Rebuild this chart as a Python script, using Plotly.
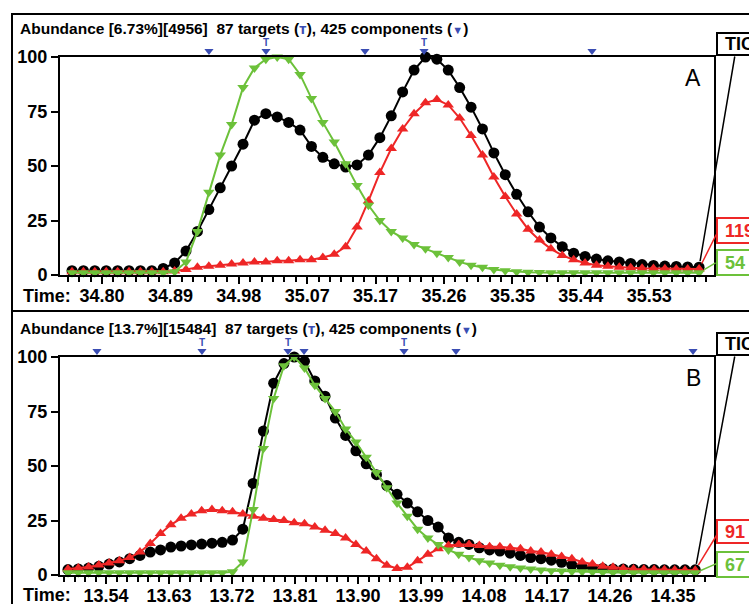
import plotly.graph_objects as go

W, H = 749, 604

RED = "#ee2626"
GREEN = "#6cc13a"
BLUE = "#3a4db3"
BLACK = "#000000"

# ---------------- Panel A : 34.7 - 35.6 min ----------------
A_scan_start = 34.760
A_scan_step = 0.01521
A_tic = [2, 2, 2, 2, 2, 2, 2, 2, 3, 5.5, 11, 20, 30, 40, 50, 60, 71, 74, 72.5, 70,
         66.5, 59, 54, 51, 49.5, 50.5, 55, 63, 73, 84, 94, 100, 99, 94, 86, 77, 67, 56, 46, 37,
         29, 22, 17, 13, 10, 8.5, 7.3, 6.5, 6, 5.3, 4.8, 4.4, 4.1, 3.9, 3.7, 3.6]
A_119 = [1.5, 1.5, 1.5, 1.5, 1.5, 1.5, 1.5, 1.5, 1.5, 1.8, 2.5, 3.5, 4, 4.5, 5, 5.5, 6, 6, 6.5, 6.5,
         7, 7, 8, 9.5, 13, 22, 34, 47, 58, 67, 74, 79, 80.5, 78, 72, 64, 55, 45, 36, 28,
         21, 16, 12, 9, 7, 5.5, 4.5, 4, 3.5, 3.3, 3.1, 3, 2.9, 2.8, 2.8, 2.8]
A_54 = [1, 1, 1, 1, 1, 1, 1, 1, 1, 1.5, 6, 20, 38, 55, 69, 86, 95, 99, 100, 99,
        92, 81, 70, 61, 51, 41, 32, 25, 20, 17, 14, 12, 10, 8, 6, 4.5, 3.5, 2.5, 2, 1.5,
        1.3, 1.2, 1, 1, 1, 1, 1, 1, 1, 1, 1, 1, 1, 1, 1, 1]
A_range = [34.74397, 35.61645]
A_tick_vals = [34.80, 34.89125, 34.9825, 35.07375, 35.165, 35.25625, 35.3475, 35.43875, 35.53]
A_tick_text = ["34.80", "34.89", "34.98", "35.07", "35.17", "35.26", "35.35", "35.44", "35.53"]
A_components = [34.9427, 35.0188, 35.1509, 35.2296, 35.4537]
A_targets = [35.0188, 35.2296]
A_header = "Abundance [6.73%][4956]"
A_ids = ["119", "54"]

# ---------------- Panel B : 13.5 - 14.4 min ----------------
B_scan_start = 13.4857
B_scan_step = 0.01469
B_tic = [2.5, 2.8, 3.2, 4, 5, 6, 7.5, 9, 10.5, 11.5, 12.8, 13.3, 13.8, 14.2, 14.6, 15, 16, 21, 42, 66,
         88, 97, 100, 98, 89, 82, 72, 64, 57, 51, 46, 41, 37, 33, 29, 25, 22, 17, 15, 14,
         12.5, 11.5, 11, 10, 9, 8, 7.5, 6.8, 5.8, 4.5, 3.7, 3.2, 3, 2.8, 2.7, 2.6, 2.5, 2.5, 2.4, 2.4,
         2.4, 2.4]
B_91 = [2.7, 3.2, 3.7, 4.6, 5.5, 6.5, 8, 10.5, 14.5, 19, 23, 26, 28, 29.5, 30, 29.5, 29, 28, 27, 26,
        25.5, 25, 24, 23.5, 22, 20.5, 19, 17, 14, 11, 7.5, 4.5, 3, 3.5, 6.5, 9.5, 12, 13.5, 14, 14,
        13.5, 13, 13, 12.5, 12, 11, 10.5, 9.5, 8.5, 7.5, 6, 5, 4, 3.5, 3, 2.8, 2.6, 2.5, 2.4, 2.3,
        2.2, 2.2]
B_67 = [1, 1, 1, 1, 1, 1, 1, 1, 1, 1, 1, 1, 1, 1, 1, 1, 1.5, 6, 30, 58,
        81, 96, 100, 95, 87, 81, 75, 67, 61, 54, 47, 40, 33, 27, 21, 17, 14, 11.5, 9.5, 8,
        6.5, 5.5, 4.5, 3.8, 3.2, 2.7, 2.3, 2, 1.8, 1.6, 1.5, 1.4, 1.3, 1.2, 1.1, 1, 1, 1, 1, 1,
        1, 1]
B_range = [13.47429, 14.40857]
B_tick_vals = [13.54, 13.63, 13.72, 13.81, 13.90, 13.99, 14.08, 14.17, 14.26, 14.35]
B_tick_text = ["13.54", "13.63", "13.72", "13.81", "13.90", "13.99", "14.08", "14.17", "14.26", "14.35"]
B_components = [13.5271, 13.6771, 13.80, 13.8229, 13.9657, 14.04, 14.3786]
B_targets = [13.6771, 13.80, 13.9657]
B_header = "Abundance [13.7%][15484]"
B_ids = ["91", "67"]

Y_TICKS = [0, 25, 50, 75, 100]

# pixel layout of the two plot frames
PX_LEFT, PX_RIGHT = 60, 714
A_TOP, A_BOTTOM = 57, 275
B_TOP, B_BOTTOM = 357, 575
FLAG_STRIP = 23          # height of the flag strip above each frame
FLAG_COMP, FLAG_TARGET = 0.26, 0.60


def px(x):
    return x / W


def py(y):
    return 1 - y / H


def scan_times(start, step, n):
    return [start + i * step for i in range(n)]


def minor_vals(major, rng):
    step = (major[1] - major[0]) / 6
    vals = []
    v = major[0]
    while v - step >= rng[0]:
        v -= step
    while v <= rng[1]:
        vals.append(v)
        v += step
    return vals


fig = go.Figure()

bold = dict(family="Liberation Sans, Arial, sans-serif", color=BLACK, weight="bold")


def add_panel(xa, ya, fa, t, tic, red, green, comps, targs):
    common = dict(xaxis=xa, yaxis=ya, mode="lines+markers", cliponaxis=False,
                  showlegend=False, hoverinfo="skip")
    fig.add_trace(go.Scatter(x=t, y=tic, line=dict(color=BLACK, width=2),
                             marker=dict(symbol="circle", size=11, color=BLACK), **common))
    fig.add_trace(go.Scatter(x=t, y=red, line=dict(color=RED, width=2),
                             marker=dict(symbol="triangle-up", size=10, color=RED), **common))
    fig.add_trace(go.Scatter(x=t, y=green, line=dict(color=GREEN, width=2),
                             marker=dict(symbol="triangle-down", size=10, color=GREEN), **common))
    # component and target flags in the strip above the frame
    fig.add_trace(go.Scatter(x=comps, y=[FLAG_COMP] * len(comps), xaxis=xa, yaxis=fa,
                             mode="markers", cliponaxis=False, showlegend=False,
                             hoverinfo="skip",
                             marker=dict(symbol="triangle-down", size=8, color=BLUE)))
    fig.add_trace(go.Scatter(x=targs, y=[FLAG_TARGET] * len(targs), xaxis=xa, yaxis=fa,
                             mode="text", text=["T"] * len(targs), cliponaxis=False,
                             showlegend=False, hoverinfo="skip",
                             textfont=dict(family="Liberation Sans, Arial", size=10, color=BLUE,
                                           weight="bold")))


tA = scan_times(A_scan_start, A_scan_step, len(A_tic))
tB = scan_times(B_scan_start, B_scan_step, len(B_tic))
add_panel("x", "y", "y3", tA, A_tic, A_119, A_54, A_components, A_targets)
add_panel("x2", "y2", "y4", tB, B_tic, B_91, B_67, B_components, B_targets)


def xaxis_cfg(rng, vals, text, anchor):
    return dict(domain=[px(PX_LEFT), px(PX_RIGHT)], range=rng, anchor=anchor,
                automargin=False, tickmode="array", tickvals=vals, ticktext=text,
                ticks="outside", ticklen=7, tickwidth=2, tickcolor=BLACK,
                ticklabelstandoff=-4,
                minor=dict(tickmode="array", tickvals=minor_vals(vals, rng), ticks="outside",
                           ticklen=5, tickwidth=2, tickcolor=BLACK),
                showline=True, linewidth=2, linecolor=BLACK, mirror=True,
                showgrid=False, zeroline=False, tickfont=dict(size=18, **bold))


def yaxis_cfg(top, bottom, anchor):
    return dict(domain=[py(bottom), py(top)], range=[0, 100], anchor=anchor,
                automargin=False, tickmode="array", tickvals=Y_TICKS, ticks="outside",
                ticklen=7, tickwidth=2, tickcolor=BLACK, showline=True, linewidth=2,
                linecolor=BLACK, mirror=True, showgrid=False, zeroline=False,
                tickfont=dict(size=18, **bold))


def flag_axis_cfg(top, anchor):
    return dict(domain=[py(top), py(top - FLAG_STRIP)], range=[0, 1], anchor=anchor,
                visible=False, automargin=False, showgrid=False, zeroline=False,
                fixedrange=True)


fig.update_layout(
    width=W, height=H, autosize=False,
    margin=dict(l=0, r=0, t=0, b=0, pad=0),
    paper_bgcolor="white", plot_bgcolor="rgba(0,0,0,0)",
    hovermode=False,
    xaxis=xaxis_cfg(A_range, A_tick_vals, A_tick_text, "y"),
    yaxis=yaxis_cfg(A_TOP, A_BOTTOM, "x"),
    xaxis2=xaxis_cfg(B_range, B_tick_vals, B_tick_text, "y2"),
    yaxis2=yaxis_cfg(B_TOP, B_BOTTOM, "x2"),
    yaxis3=flag_axis_cfg(A_TOP, "x"),
    yaxis4=flag_axis_cfg(B_TOP, "x2"),
)

shapes = []
annotations = []

# outer panel frames
shapes.append(dict(type="rect", xref="paper", yref="paper", x0=px(12), x1=px(800),
                   y0=py(311), y1=py(14), line=dict(color=BLACK, width=2)))
shapes.append(dict(type="rect", xref="paper", yref="paper", x0=px(12), x1=px(800),
                   y0=py(700), y1=py(311), line=dict(color=BLACK, width=2)))

flag = "<span style='color:%s'>%s</span>"
for header, hy in [(A_header, 28), (B_header, 328)]:
    text = (header + "  87 targets (" + flag % (BLUE, "т") + "), 425 components ("
            + "<span style='color:%s;font-size:11px'>▼</span>" % BLUE + ")")
    annotations.append(dict(xref="paper", yref="paper", x=px(18), y=py(hy), text=text,
                            showarrow=False, xanchor="left", yanchor="middle",
                            font=dict(size=15.5, **bold)))

for label, ly in [("A", 78), ("B", 378)]:
    annotations.append(dict(xref="paper", yref="paper", x=px(693), y=py(ly), text=label,
                            showarrow=False, xanchor="center", yanchor="middle",
                            font=dict(family="Liberation Sans, Arial", size=23, color=BLACK)))

for ty in [296, 595]:
    annotations.append(dict(xref="paper", yref="paper", x=px(47), y=py(ty), text="Time:",
                            showarrow=False, xanchor="center", yanchor="middle",
                            font=dict(size=18, **bold)))


def to_data(xpix, ypix, rng, top, bottom):
    x = rng[0] + (xpix - PX_LEFT) / (PX_RIGHT - PX_LEFT) * (rng[1] - rng[0])
    y = (bottom - ypix) / (bottom - top) * 100
    return x, y


def add_id_boxes(xa, ya, rng, top, bottom, t, tic, red, green, ids, boxes):
    entries = [("TIC", BLACK, tic), (ids[0], RED, red), (ids[1], GREEN, green)]
    for (text, color, series), (bt, bb, tx, ty) in zip(entries, boxes):
        shapes.append(dict(type="rect", xref="paper", yref="paper", x0=px(717), x1=px(790),
                           y0=py(bb), y1=py(bt), line=dict(color=color, width=2),
                           fillcolor="white"))
        annotations.append(dict(xref="paper", yref="paper", x=px(723), y=py((bt + bb) / 2),
                                text=text, showarrow=False, xanchor="left", yanchor="middle",
                                font=dict(family="Liberation Sans, Arial", size=18, color=color,
                                          weight="bold")))
        ax, ay = to_data(tx, ty, rng, top, bottom)
        annotations.append(dict(xref=xa, yref=ya, axref=xa, ayref=ya, x=t[-1], y=series[-1],
                                ax=ax, ay=ay, text="", showarrow=True, arrowhead=0,
                                arrowwidth=1.5, arrowcolor=color, standoff=6))


add_id_boxes("x", "y", A_range, A_TOP, A_BOTTOM, tA, A_tic, A_119, A_54, A_ids,
             [(33, 55, 735, 55), (218, 243, 717, 233), (250, 275, 717, 262)])
add_id_boxes("x2", "y2", B_range, B_TOP, B_BOTTOM, tB, B_tic, B_91, B_67, B_ids,
             [(333, 355, 735, 355), (520, 543, 718, 533), (552, 577, 718, 563)])

fig.update_layout(shapes=shapes, annotations=annotations)
fig.write_html("out.html")
